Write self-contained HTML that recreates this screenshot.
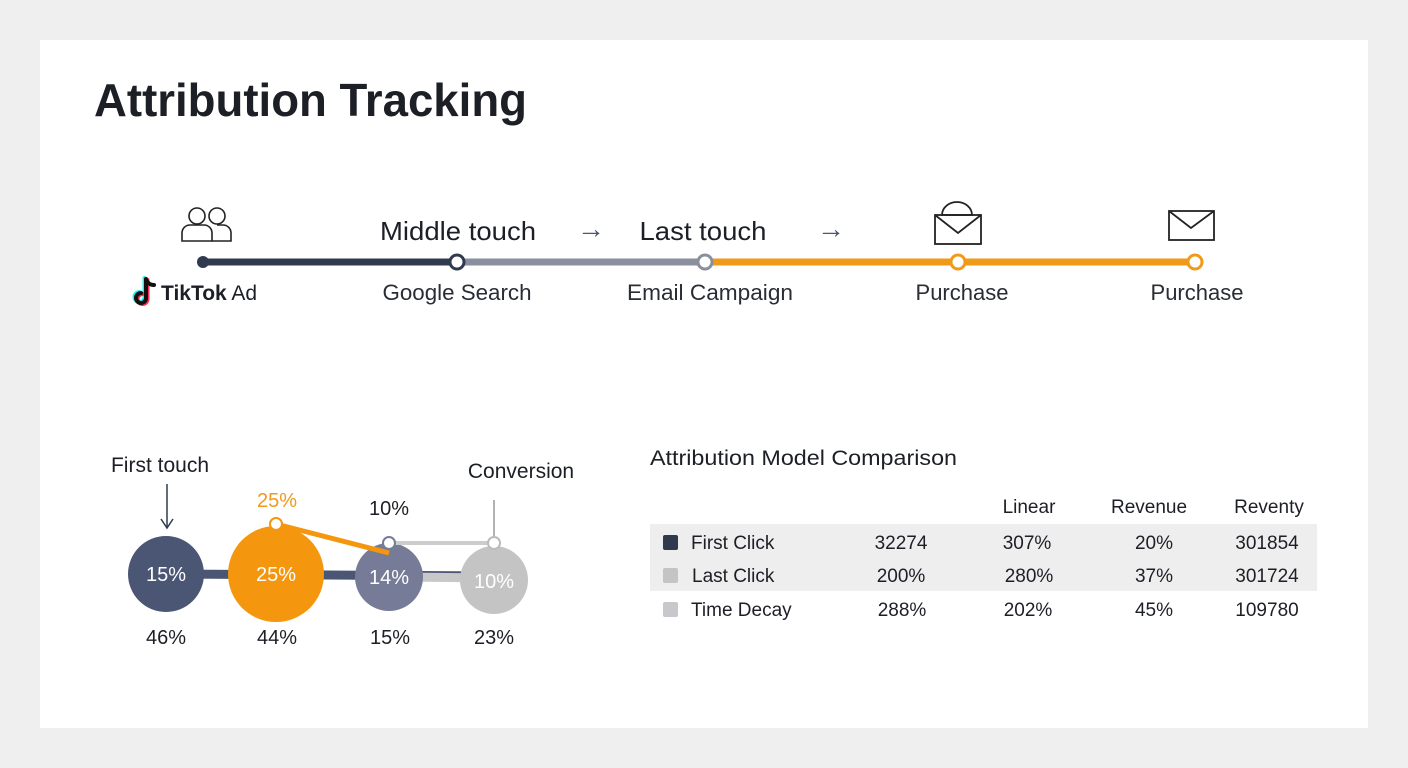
<!DOCTYPE html>
<html><head><style>
body{margin:0;background:#efefef;}
svg{display:block;font-family:"Liberation Sans",sans-serif;}
</style></head><body>
<svg width="1408" height="768" xmlns="http://www.w3.org/2000/svg">
<rect x="0" y="0" width="1408" height="768" fill="#efefef"/>
<rect x="40" y="40" width="1328" height="688" fill="#ffffff"/>
<text x="94" y="116" font-size="46" font-weight="bold" fill="#1d1f26" textLength="433" lengthAdjust="spacingAndGlyphs">Attribution Tracking</text>

<!-- timeline -->
<line x1="203" y1="262" x2="457" y2="262" stroke="#2f3a4f" stroke-width="7"/>
<line x1="457" y1="262" x2="705" y2="262" stroke="#8a8f9e" stroke-width="7"/>
<line x1="705" y1="262" x2="1195" y2="262" stroke="#f09a1a" stroke-width="7"/>
<circle cx="203" cy="262" r="6" fill="#2f3a4f"/>
<circle cx="457" cy="262" r="7" fill="#fff" stroke="#2f3a4f" stroke-width="3"/>
<circle cx="705" cy="262" r="7" fill="#fff" stroke="#8a8f9e" stroke-width="3"/>
<circle cx="958" cy="262" r="7" fill="#fff" stroke="#f09a1a" stroke-width="3"/>
<circle cx="1195" cy="262" r="7" fill="#fff" stroke="#f09a1a" stroke-width="3"/>

<text x="458" y="240" font-size="26" text-anchor="middle" fill="#1d1f26" textLength="156" lengthAdjust="spacingAndGlyphs">Middle touch</text>
<text x="703" y="240" font-size="26" text-anchor="middle" fill="#1d1f26" textLength="127" lengthAdjust="spacingAndGlyphs">Last touch</text>
<text x="591" y="238" font-size="28" text-anchor="middle" fill="#4b5675">→</text>
<text x="831" y="238" font-size="28" text-anchor="middle" fill="#4b5675">→</text>

<!-- people icon -->
<g fill="none" stroke="#222" stroke-width="1.6">
<circle cx="197" cy="216" r="8"/><circle cx="217" cy="216" r="8"/>
<path d="M182 241 v-8 a8 8 0 0 1 8 -8 h14 a8 8 0 0 1 8 8 v8 z"/>
<path d="M212 241 h19 v-8 a8 8 0 0 0 -8 -8 h-6"/>
</g>
<!-- envelope icons -->
<g fill="none" stroke="#222" stroke-width="1.8">
<path d="M942 215 a15 13 0 0 1 30 0 z"/>
<rect x="935" y="215" width="46" height="29"/><path d="M935 215 l23 18 l23 -18"/>
<rect x="1169" y="211" width="45" height="29"/><path d="M1169 211 l22 17 l23 -17"/>
</g>

<!-- tiktok -->
<g stroke-width="4" fill="none" stroke-linecap="round">
<path d="M146 279 v19 a5 5 0 1 1 -5 -5" stroke="#25f4ee" transform="translate(-1.5,-1)"/>
<path d="M146 279 v19 a5 5 0 1 1 -5 -5" stroke="#fe2c55" transform="translate(1.5,1)"/>
<path d="M146 279 v19 a5 5 0 1 1 -5 -5 M146 279 q2 6 8 6" stroke="#111"/>
</g>
<text x="161" y="300" font-size="21" fill="#1d1f26"><tspan font-weight="bold">TikTok</tspan> Ad</text>
<text x="457" y="300" font-size="22" text-anchor="middle" fill="#2a2d35" textLength="149" lengthAdjust="spacingAndGlyphs">Google Search</text>
<text x="710" y="300" font-size="22" text-anchor="middle" fill="#2a2d35" textLength="166" lengthAdjust="spacingAndGlyphs">Email Campaign</text>
<text x="962" y="300" font-size="22" text-anchor="middle" fill="#2a2d35">Purchase</text>
<text x="1197" y="300" font-size="22" text-anchor="middle" fill="#2a2d35">Purchase</text>

<!-- bubble chart -->
<text x="160" y="472" font-size="21" text-anchor="middle" fill="#1d1f26">First touch</text>
<text x="521" y="478" font-size="21" text-anchor="middle" fill="#1d1f26">Conversion</text>
<line x1="167" y1="484" x2="167" y2="527" stroke="#2f3a4f" stroke-width="1.5"/>
<path d="M161 519 l6 9 l6 -9" fill="none" stroke="#2f3a4f" stroke-width="1.5"/>
<line x1="494" y1="500" x2="494" y2="538" stroke="#999" stroke-width="1.5"/>
<line x1="166" y1="574" x2="494" y2="576" stroke="#4b5675" stroke-width="9"/>
<line x1="400" y1="577" x2="494" y2="578" stroke="#c8c8c8" stroke-width="9"/>
<circle cx="166" cy="574" r="38" fill="#4b5675"/>
<circle cx="276" cy="574" r="48" fill="#f5960f"/>
<circle cx="389" cy="577" r="34" fill="#767c98"/>
<circle cx="494" cy="580" r="34" fill="#c4c4c4"/>
<line x1="389" y1="543" x2="494" y2="543" stroke="#cccccc" stroke-width="4"/>
<line x1="276" y1="524" x2="389" y2="553" stroke="#f5960f" stroke-width="5"/>
<circle cx="276" cy="524" r="6" fill="#fff" stroke="#f5960f" stroke-width="2"/>
<circle cx="389" cy="543" r="6" fill="#fff" stroke="#767c98" stroke-width="2"/>
<circle cx="494" cy="543" r="6" fill="#fff" stroke="#bbb" stroke-width="2"/>
<g font-size="20" text-anchor="middle" fill="#fff">
<text x="166" y="581">15%</text><text x="276" y="581">25%</text>
<text x="389" y="584">14%</text><text x="494" y="588">10%</text>
</g>
<text x="277" y="507" font-size="20" text-anchor="middle" fill="#f09a1a">25%</text>
<text x="389" y="515" font-size="20" text-anchor="middle" fill="#1d1f26">10%</text>
<g font-size="20" text-anchor="middle" fill="#1d1f26">
<text x="166" y="644">46%</text><text x="277" y="644">44%</text>
<text x="390" y="644">15%</text><text x="494" y="644">23%</text>
</g>

<!-- table -->
<text x="650" y="465" font-size="21" fill="#1d1f26" textLength="307" lengthAdjust="spacingAndGlyphs">Attribution Model Comparison</text>
<rect x="650" y="524" width="667" height="67" fill="#eeeeee"/>
<g font-size="19" fill="#1d1f26" text-anchor="middle">
<text x="1029" y="513">Linear</text><text x="1149" y="513">Revenue</text><text x="1269" y="513">Reventy</text>
</g>
<rect x="663" y="535" width="15" height="15" rx="2" fill="#2f3a4f"/>
<rect x="663" y="568" width="15" height="15" rx="2" fill="#c4c4c4"/>
<rect x="663" y="602" width="15" height="15" rx="2" fill="#c8c8cc"/>
<g font-size="19" fill="#1d1f26">
<text x="691" y="549">First Click</text><text x="692" y="582">Last Click</text><text x="691" y="616">Time Decay</text>
</g>
<g font-size="19" fill="#1d1f26" text-anchor="middle">
<text x="901" y="549">32274</text><text x="1027" y="549">307%</text><text x="1154" y="549">20%</text><text x="1267" y="549">301854</text>
<text x="901" y="582">200%</text><text x="1029" y="582">280%</text><text x="1154" y="582">37%</text><text x="1267" y="582">301724</text>
<text x="902" y="616">288%</text><text x="1028" y="616">202%</text><text x="1154" y="616">45%</text><text x="1267" y="616">109780</text>
</g>
</svg>
</body></html>
